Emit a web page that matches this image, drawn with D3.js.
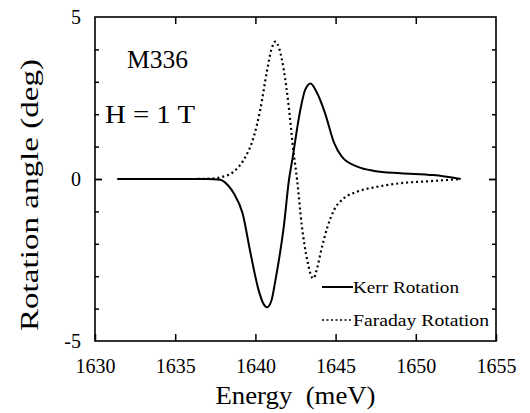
<!DOCTYPE html>
<html>
<head>
<meta charset="utf-8">
<script src="https://cdn.jsdelivr.net/npm/d3@7"></script>
<style>
  html, body { margin: 0; padding: 0; background: #fff; }
</style>
</head>
<body>
<svg id="chart" width="530" height="413"></svg>
<script>
// ---- data ----
const kerrEnergy = [1631.4, 1635, 1637.0, 1637.8, 1638.3, 1638.65, 1639.2, 1639.7, 1640.2, 1640.5, 1640.73, 1641.0, 1641.25, 1641.77, 1642.1, 1642.3, 1642.8, 1643.1, 1643.44, 1643.8, 1644.35, 1644.9, 1645.4, 1646.35, 1647.4, 1649.06, 1651.1, 1652.8];
const kerrRotation = [0, 0, 0, -0.02, -0.2, -0.44, -1.06, -2.3, -3.43, -3.85, -3.96, -3.75, -3.12, -1.47, 0, 0.59, 2.13, 2.75, 2.95, 2.7, 2.02, 1.12, 0.68, 0.38, 0.25, 0.18, 0.12, 0];

const faradayEnergy = [1631.4, 1636, 1637.5, 1637.8, 1638.65, 1639.27, 1639.9, 1640.3, 1640.73, 1641.0, 1641.25, 1641.5, 1641.77, 1642.08, 1642.35, 1642.6, 1642.9, 1643.23, 1643.6, 1643.85, 1644.06, 1644.5, 1644.9, 1645.5, 1646.35, 1647.6, 1649.06, 1651.1, 1652.8];
const faradayRotation = [0, 0, 0.02, 0.05, 0.23, 0.59, 1.31, 2.13, 3.36, 4.0, 4.24, 4.0, 3.36, 2.23, 0.95, -0.03, -1.47, -2.5, -3.07, -2.75, -2.29, -1.47, -0.96, -0.6, -0.39, -0.24, -0.13, -0.06, 0];

const xTicks = [1630, 1635, 1640, 1645, 1650, 1655];
const yMinorTicks = [-4, -3, -2, -1, 1, 2, 3, 4];
const yLabelTicks = [-5, 0, 5];
const seriesNames = ["Kerr Rotation", "Faraday Rotation"];
const annotations = ["M336", "H = 1 T"];

const FONT = '"Liberation Serif"';

// ---- layout ----
const svg = d3.select("#chart");
const L = 95, R = 496, T = 17, B = 341;
const x = d3.scaleLinear().domain([1630, 1655]).range([L, R]);
const y = d3.scaleLinear().domain([-5, 5]).range([B, T]);

// frame
svg.append("rect").attr("x", L).attr("y", T).attr("width", R - L).attr("height", B - T)
  .attr("fill", "none").attr("stroke", "#000").attr("stroke-width", 1.6);

// x axis (bottom, ticks inward)
const xAxisB = d3.axisBottom(x).tickValues(xTicks).tickSize(-7).tickFormat(d3.format("d"));
const gxb = svg.append("g").attr("transform", `translate(0,${B})`).call(xAxisB);
gxb.attr("font-family", null).attr("font-size", null);
gxb.select(".domain").remove();
gxb.selectAll(".tick line").attr("stroke", "#000").attr("stroke-width", 1.5);
gxb.selectAll(".tick text").style("font-family", FONT).style("font-size", "20px")
  .attr("fill", "#000").attr("dy", 0).attr("y", 32);

// x axis (top, ticks inward, no labels)
const xAxisT = d3.axisTop(x).tickValues(xTicks.slice(1, -1)).tickSize(-7).tickFormat("");
const gxt = svg.append("g").attr("transform", `translate(0,${T})`).call(xAxisT);
gxt.select(".domain").remove();
gxt.selectAll(".tick line").attr("stroke", "#000").attr("stroke-width", 1.5);

// y axis minor ticks left and right
const yAxisL = d3.axisLeft(y).tickValues(yMinorTicks).tickSize(-4).tickFormat("");
const gyl = svg.append("g").attr("transform", `translate(${L},0)`).call(yAxisL);
gyl.select(".domain").remove();
gyl.selectAll(".tick line").attr("stroke", "#000").attr("stroke-width", 1.5);
const yAxisR = d3.axisRight(y).tickValues(yMinorTicks).tickSize(-4).tickFormat("");
const gyr = svg.append("g").attr("transform", `translate(${R},0)`).call(yAxisR);
gyr.select(".domain").remove();
gyr.selectAll(".tick line").attr("stroke", "#000").attr("stroke-width", 1.5);

// y zero major ticks
const yAxisL0 = d3.axisLeft(y).tickValues([0]).tickSize(-7).tickFormat("");
const gyl0 = svg.append("g").attr("transform", `translate(${L},0)`).call(yAxisL0);
gyl0.select(".domain").remove();
gyl0.selectAll(".tick line").attr("stroke", "#000").attr("stroke-width", 1.8);
const yAxisR0 = d3.axisRight(y).tickValues([0]).tickSize(-7).tickFormat("");
const gyr0 = svg.append("g").attr("transform", `translate(${R},0)`).call(yAxisR0);
gyr0.select(".domain").remove();
gyr0.selectAll(".tick line").attr("stroke", "#000").attr("stroke-width", 1.8);

// y labels
svg.append("g").selectAll("text").data(yLabelTicks).join("text")
  .attr("x", 81).attr("y", d => y(d)).attr("dy", "0.35em")
  .style("font-family", FONT).style("font-size", "20px")
  .attr("text-anchor", "end").text(d => d);

// axis titles
svg.append("text").attr("x", (L + R) / 2).attr("y", 404).attr("text-anchor", "middle")
  .style("font-family", FONT).style("font-size", "26px").style("white-space", "pre")
  .attr("textLength", 160).attr("lengthAdjust", "spacingAndGlyphs")
  .text("Energy  (meV)");
svg.append("text").attr("transform", "translate(38,195) rotate(-90)").attr("text-anchor", "middle")
  .style("font-family", FONT).style("font-size", "26px")
  .attr("textLength", 272).attr("lengthAdjust", "spacingAndGlyphs")
  .text("Rotation angle (deg)");

// annotations
svg.append("text").attr("x", 127).attr("y", 68)
  .style("font-family", FONT).style("font-size", "25px")
  .attr("textLength", 61).attr("lengthAdjust", "spacingAndGlyphs").text(annotations[0]);
svg.append("text").attr("x", 105).attr("y", 123)
  .style("font-family", FONT).style("font-size", "25px")
  .attr("textLength", 90).attr("lengthAdjust", "spacingAndGlyphs").text(annotations[1]);

// curves
const line = d3.line().x(d => x(d[0])).y(d => y(d[1])).curve(d3.curveMonotoneX);
const kerr = kerrEnergy.map((e, i) => [e, kerrRotation[i]]);
const faraday = faradayEnergy.map((e, i) => [e, faradayRotation[i]]);

svg.append("path").datum(faraday).attr("d", line).attr("fill", "none")
  .attr("stroke", "#000").attr("stroke-width", 2.2).attr("stroke-dasharray", "2,3");
svg.append("path").datum(kerr).attr("d", line).attr("fill", "none")
  .attr("stroke", "#000").attr("stroke-width", 2);

// legend
const legendY = [287, 320];
const legendDash = [null, "2,2.5"];
const lg = svg.append("g");
seriesNames.forEach((name, i) => {
  lg.append("line").attr("x1", 322).attr("x2", 353).attr("y1", legendY[i]).attr("y2", legendY[i])
    .attr("stroke", "#000").attr("stroke-width", i === 0 ? 2 : 1.6)
    .attr("stroke-dasharray", legendDash[i]);
  lg.append("text").attr("x", 353).attr("y", legendY[i] + 6)
    .style("font-family", FONT).style("font-size", "16px")
    .attr("textLength", i === 0 ? 106 : 136).attr("lengthAdjust", "spacingAndGlyphs").text(name);
});
</script>
</body>
</html>
